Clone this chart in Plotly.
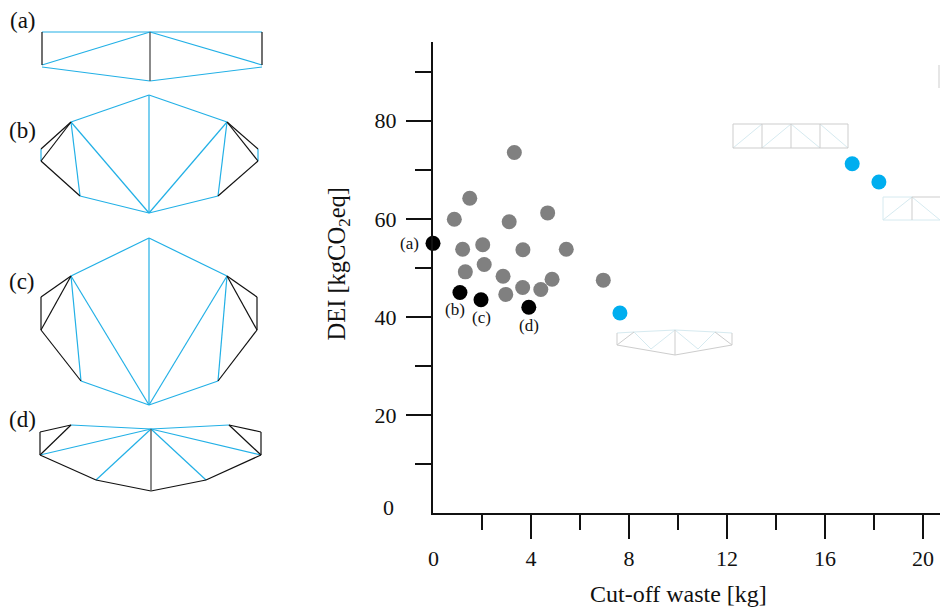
import plotly.graph_objects as go

# --- chart data ---
waste_gray = [3.32, 1.50, 0.87, 3.11, 4.68, 1.21, 2.03, 3.67, 5.44, 2.09, 1.32, 2.86, 4.86, 6.95, 3.66, 4.40, 2.97]
dei_gray = [73.5, 64.2, 59.9, 59.4, 61.2, 53.8, 54.7, 53.7, 53.8, 50.7, 49.2, 48.3, 47.7, 47.5, 46.0, 45.6, 44.6]
waste_black = [0.0, 1.10, 1.96, 3.91]
dei_black = [55.0, 45.0, 43.5, 42.0]
labels_black = ["(a)", "(b)", "(c)", "(d)"]
waste_blue = [7.63, 17.11, 18.2]
dei_blue = [40.8, 71.2, 67.5]
x_major = [4, 8, 12, 16, 20]
x_minor = [2, 6, 10, 14, 18]
y_major = [20, 40, 60, 80]
y_minor = [10, 30, 50, 70, 90]

# --- truss schematics (sketch coordinates, in the picture's own units) ---
a_nodes = dict(TL=(42, 32), TC=(150, 32), TR=(262, 32), BL=(42, 65), BR=(262, 65), LL=(42, 67), LR=(262, 67), BC=(150, 81))
a_blue = [("TL", "TC"), ("TC", "TR"), ("BL", "TC"), ("TC", "BR"), ("LL", "BC"), ("BC", "LR")]
a_black = [("TL", "BL"), ("TR", "BR")]
a_gray = [("TC", "BC")]

b_nodes = dict(T=(149, 95), UL=(71, 122), UR=(227, 122), FLT=(41, 149), FLB=(41, 161), FRT=(258, 149), FRB=(258, 161),
               LL=(80, 196), LR=(218, 196), B=(149, 213))
b_blue = [("T", "UL"), ("T", "UR"), ("T", "B"), ("UL", "B"), ("UR", "B"), ("UL", "LL"), ("UR", "LR"), ("LL", "B"), ("LR", "B"),
          ("FLT", "FLB"), ("FRT", "FRB")]
b_black = [("UL", "FLT"), ("UL", "FLB"), ("FLB", "LL"), ("UR", "FRT"), ("UR", "FRB"), ("FRB", "LR")]

c_nodes = dict(T=(149, 238), UL=(71, 276), UR=(227, 276), FLT=(41, 297), FLB=(41, 330), FRT=(257, 297), FRB=(257, 330),
               LL=(81, 381), LR=(218, 381), B=(149, 405))
c_blue = [("T", "UL"), ("T", "UR"), ("T", "B"), ("UL", "B"), ("UR", "B"), ("UL", "LL"), ("UR", "LR"), ("LL", "B"), ("LR", "B")]
c_black = [("UL", "FLT"), ("UL", "FLB"), ("FLT", "FLB"), ("FLB", "LL"), ("UR", "FRT"), ("UR", "FRB"), ("FRT", "FRB"), ("FRB", "LR")]

d_nodes = dict(UL=(71, 425), UR=(229, 425), FLT=(40, 432), FLB=(40, 455), FRT=(261, 432), FRB=(261, 455), CT=(151, 429),
               LL=(96, 480), LR=(206, 480), B=(151, 491))
d_blue = [("UL", "CT"), ("UR", "CT"), ("FLB", "CT"), ("FRB", "CT"), ("LL", "CT"), ("LR", "CT")]
d_black = [("UL", "FLT"), ("UL", "FLB"), ("FLT", "FLB"), ("FLB", "LL"), ("LL", "B"), ("UR", "FRT"), ("UR", "FRB"), ("FRT", "FRB"), ("FRB", "LR"), ("LR", "B")]
d_gray = [("CT", "B")]

e_nodes = dict(LT=(617, 333), LB=(617, 345), U1=(634, 332), C=(675, 330), U2=(715, 332), RT=(732, 333), RB=(732, 345),
               M1=(651, 349), M2=(698, 349), CB=(675, 355))
e_pale = [("LT", "U1"), ("U1", "C"), ("C", "U2"), ("U2", "RT"), ("M1", "C"), ("C", "M2"), ("U1", "M1"), ("M2", "U2")]
e_faint = [("LT", "LB"), ("RT", "RB"), ("LB", "U1"), ("U2", "RB"), ("LB", "CB"), ("CB", "RB"), ("C", "CB")]

f_nodes = dict(T0=(733, 124), T1=(762, 124), T2=(791, 124), T3=(820, 124), T4=(848, 124),
               B0=(733, 148), B1=(762, 148), B2=(791, 148), B3=(820, 148), B4=(848, 148))
f_pale = [("B0", "T1"), ("B1", "T2"), ("T2", "B3"), ("T3", "B4")]
f_faint = [("T0", "T4"), ("B0", "B4"), ("T0", "B0"), ("T1", "B1"), ("T2", "B2"), ("T3", "B3"), ("T4", "B4")]

g_nodes = dict(T0=(883, 197), T1=(912, 197), T2=(940, 197), B0=(883, 220), B1=(912, 220), B2=(940, 220), Z1=(939, 65), Z2=(939, 88))
g_pale = [("B0", "T1"), ("T1", "B2"), ("T0", "T1"), ("T0", "B0"), ("B0", "B2")]
g_faint = [("T1", "T2"), ("T1", "B1"), ("Z1", "Z2")]

BLUE = "#22b0e6"
BLACK = "#111111"
GRAY = "#5a5a5a"
PALE = "#d6eaf0"
FAINT = "#cdcdcd"
FONT = "Liberation Serif"


def segs(nodes, members):
    xs, ys = [], []
    for p, q in members:
        xs += [nodes[p][0], nodes[q][0], None]
        ys += [nodes[p][1], nodes[q][1], None]
    return xs, ys


fig = go.Figure()

groups = [
    (e_nodes, e_pale, PALE, 1), (e_nodes, e_faint, FAINT, 1),
    (f_nodes, f_pale, PALE, 1), (f_nodes, f_faint, FAINT, 1),
    (g_nodes, g_pale, PALE, 1), (g_nodes, g_faint, FAINT, 1),
    (a_nodes, a_blue, BLUE, 1.2), (a_nodes, a_black, BLACK, 1.2), (a_nodes, a_gray, GRAY, 1.4),
    (b_nodes, b_blue, BLUE, 1.2), (b_nodes, b_black, BLACK, 1.2),
    (c_nodes, c_blue, BLUE, 1.2), (c_nodes, c_black, BLACK, 1.2),
    (d_nodes, d_blue, BLUE, 1.2), (d_nodes, d_black, BLACK, 1.2), (d_nodes, d_gray, GRAY, 1.4),
]
for nodes, members, color, width in groups:
    xs, ys = segs(nodes, members)
    fig.add_trace(go.Scatter(x=xs, y=ys, mode="lines", line=dict(color=color, width=width),
                             xaxis="x2", yaxis="y2", hoverinfo="skip", showlegend=False))

fig.add_trace(go.Scatter(x=waste_gray, y=dei_gray, mode="markers", cliponaxis=False,
                         marker=dict(color="#808080", size=15), showlegend=False))
fig.add_trace(go.Scatter(x=waste_blue, y=dei_blue, mode="markers", cliponaxis=False,
                         marker=dict(color="#00aeef", size=15), showlegend=False))
fig.add_trace(go.Scatter(x=waste_black, y=dei_black, mode="markers", cliponaxis=False,
                         marker=dict(color="#000000", size=15), showlegend=False))

X0, Y0, YT = 433, 513.4, 42
XUNIT, YUNIT = 24.5, 4.91

annotations = []
# panel letters beside the schematics
for txt, px, py in [("(a)", 23, 20), ("(b)", 22, 130), ("(c)", 22, 281), ("(d)", 22, 419)]:
    annotations.append(dict(text=txt, x=px, y=py, xref="x2", yref="y2", showarrow=False,
                            font=dict(family=FONT, size=23, color="#111111")))
# labels of the black points
for txt, dx, dy, xv, yv in zip(labels_black, [-24, -5, 0, 0], [0, -17, -18, -18], waste_black, dei_black):
    annotations.append(dict(text=txt, x=xv, y=yv, xref="x", yref="y", xshift=dx, yshift=dy, showarrow=False,
                            font=dict(family=FONT, size=17, color="#111111")))
# the origin labels sit apart from the axes, which carry no tick at zero
annotations.append(dict(text="0", x=0, y=0, xref="x", yref="y", xshift=-45, yshift=6, showarrow=False,
                        font=dict(family=FONT, size=22, color="#111111")))
annotations.append(dict(text="0", x=0, y=0, xref="x", yref="y", yshift=-45, showarrow=False,
                        font=dict(family=FONT, size=22, color="#111111")))
# axis titles, placed off the centre of their axes as in the reference
annotations.append(dict(text="Cut-off waste [kg]", x=678, y=594, xref="x2", yref="y2", showarrow=False,
                        font=dict(family=FONT, size=24, color="#111111")))
annotations.append(dict(text="DEI [kgCO<sub>2</sub>eq]", x=338, y=263.5, xref="x2", yref="y2", showarrow=False, textangle=-90,
                        font=dict(family=FONT, size=24.5, color="#111111")))

fig.update_layout(
    width=940, height=609, margin=dict(l=0, r=0, t=0, b=0, autoexpand=False),
    paper_bgcolor="white", plot_bgcolor="rgba(0,0,0,0)", showlegend=False,
    annotations=annotations,
    font=dict(family=FONT, color="#111111"),
    xaxis=dict(domain=[X0 / 940, 1], range=[0, (940 - X0) / XUNIT], showgrid=False, zeroline=False,
               showline=True, linecolor="#111111", linewidth=2, ticks="outside", ticklen=24, tickwidth=2,
               tickcolor="#111111", tickvals=x_major, ticktext=[str(v) for v in x_major],
               tickfont=dict(family=FONT, size=22, color="#111111"), ticklabelstandoff=0,
               minor=dict(tickvals=x_minor, ticks="outside", ticklen=15, tickwidth=2, tickcolor="#111111", showgrid=False)),
    yaxis=dict(domain=[(609 - Y0) / 609, (609 - YT) / 609], range=[0, (Y0 - YT) / YUNIT], showgrid=False, zeroline=False,
               showline=True, linecolor="#111111", linewidth=2, ticks="outside", ticklen=25, tickwidth=2,
               tickcolor="#111111", tickvals=y_major, ticktext=[str(v) for v in y_major],
               tickfont=dict(family=FONT, size=22, color="#111111"), ticklabelstandoff=5,
               minor=dict(tickvals=y_minor, ticks="outside", ticklen=16, tickwidth=2, tickcolor="#111111", showgrid=False)),
    xaxis2=dict(domain=[0, 1], range=[0, 940], visible=False, fixedrange=True, anchor="y2"),
    yaxis2=dict(domain=[0, 1], range=[609, 0], visible=False, fixedrange=True, anchor="x2"),
)
fig.write_html("out.html", config={"displayModeBar": False},
               post_script="document.body.style.margin='0';")
